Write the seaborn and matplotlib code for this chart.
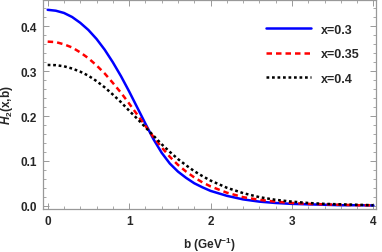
import numpy as np
import pandas as pd
import matplotlib
matplotlib.use("Agg")
import matplotlib.pyplot as plt
import seaborn as sns
from matplotlib.ticker import MultipleLocator

# values
b = [0.0, 0.1, 0.2, 0.3, 0.4, 0.5, 0.6, 0.7, 0.8, 0.9, 1.0,
     1.1, 1.2, 1.3, 1.4, 1.5, 1.6, 1.7, 1.8, 1.9, 2.0,
     2.2, 2.4, 2.6, 2.8, 3.0, 3.2, 3.4, 3.6, 3.8, 4.0]
h_x03 = [0.437, 0.435, 0.430, 0.421, 0.408, 0.392, 0.372, 0.348, 0.320, 0.289, 0.255,
         0.219, 0.183, 0.148, 0.118, 0.094, 0.076, 0.062, 0.050, 0.041, 0.033,
         0.022, 0.014, 0.009, 0.006, 0.004, 0.003, 0.002, 0.001, 0.001, 0.0005]
h_x035 = [0.366, 0.365, 0.360, 0.353, 0.342, 0.329, 0.313, 0.295, 0.274, 0.252, 0.228,
          0.203, 0.178, 0.153, 0.130, 0.109, 0.091, 0.076, 0.063, 0.052, 0.043,
          0.029, 0.019, 0.013, 0.009, 0.006, 0.004, 0.003, 0.002, 0.001, 0.001]
h_x04 = [0.314, 0.3135, 0.311, 0.306, 0.299, 0.290, 0.278, 0.264, 0.248, 0.231, 0.212,
         0.194, 0.175, 0.156, 0.137, 0.120, 0.104, 0.090, 0.077, 0.066, 0.056,
         0.040, 0.028, 0.019, 0.013, 0.009, 0.006, 0.004, 0.003, 0.002, 0.001]
labels = ["x=0.3", "x=0.35", "x=0.4"]

sns.set_style("ticks")
plt.rcParams['font.family'] = ['Liberation Sans', 'DejaVu Sans']
plt.rcParams['mathtext.fontset'] = 'custom'
plt.rcParams['mathtext.rm'] = 'Liberation Sans:bold'
plt.rcParams['mathtext.it'] = 'Liberation Sans:bold:italic'
plt.rcParams['mathtext.bf'] = 'Liberation Sans:bold'

fig = plt.figure(figsize=(3.82, 2.53), dpi=100)
ax = fig.add_axes([0.112, 0.170, 0.872, 0.828])

styles = [("blue", "-"), ("red", (0, (2.2, 1.6))), ("black", (0, (1.1, 1.1)))]
for ys, lab, (c, ls) in zip([h_x03, h_x035, h_x04], labels, styles):
    sns.lineplot(x=b, y=ys, ax=ax, color=c, linestyle=ls, linewidth=1.8, label=lab)

ax.set_xlim(-0.06, 4.03)
ax.set_ylim(-0.0074, 0.46)
ax.xaxis.set_major_locator(MultipleLocator(1))
ax.xaxis.set_minor_locator(MultipleLocator(0.2))
ax.yaxis.set_major_locator(MultipleLocator(0.1))
ax.yaxis.set_minor_locator(MultipleLocator(0.02))
ax.set_yticks([0.0, 0.1, 0.2, 0.3, 0.4])
ax.set_yticklabels(["0.0", "0.1", "0.2", "0.3", "0.4"])

ax.tick_params(which='both', direction='in', top=True, right=True, color='#999999')
ax.tick_params(which='major', length=4, width=0.7, labelsize=8.5, pad=4)
ax.tick_params(which='minor', length=2, width=0.6)
for lbl in ax.get_xticklabels() + ax.get_yticklabels():
    lbl.set_fontweight('bold')
for sp in ax.spines.values():
    sp.set_color('#999999')
    sp.set_linewidth(0.9)

ax.set_xlabel(r"b (GeV$^{-1}$)", fontsize=8.5, fontweight='bold', labelpad=6)
ax.set_ylabel(r"$H_2$(x,b)", fontsize=8.5, fontweight='bold', labelpad=4)

leg = ax.legend(loc='upper right', bbox_to_anchor=(0.967, 0.909), frameon=False,
                fontsize=9, handlelength=3.6, labelspacing=1.0, handletextpad=0.8,
                borderaxespad=0)
for t in leg.get_texts():
    t.set_fontweight('bold')

fig.savefig("out.png", dpi=100)
